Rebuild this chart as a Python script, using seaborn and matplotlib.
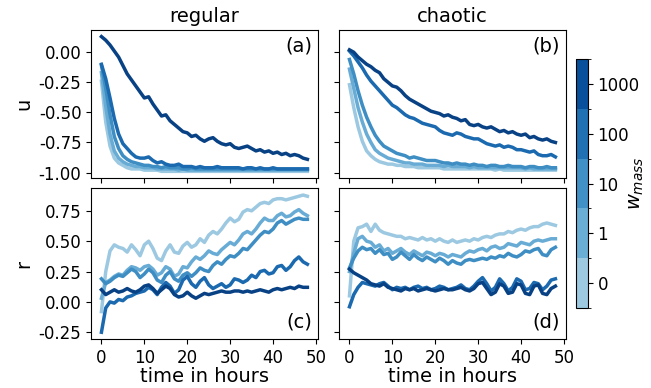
import numpy as np
import pandas as pd
import matplotlib
matplotlib.use("Agg")
import matplotlib.pyplot as plt
import seaborn as sns
from matplotlib.colors import ListedColormap, BoundaryNorm
from matplotlib.cm import ScalarMappable

# ---------------- data ----------------
hours = list(range(0, 49))
weights = ["0", "1", "10", "100", "1000"]
columns = ["regular", "chaotic"]
panel_labels = ["(a)", "(b)", "(c)", "(d)"]

# u, regular (panel a)
u_reg_0 = [-0.24, -0.58, -0.78, -0.88, -0.92, -0.94, -0.96, -0.97, -0.97, -0.97, -0.98, -0.98, -0.98, -0.98, -0.99,
           -0.99, -0.99, -0.99, -0.99, -0.99, -0.99, -0.99, -0.99, -0.99, -0.99, -0.99, -0.99, -0.99, -0.99, -0.99,
           -0.99, -0.99, -0.99, -0.99, -0.99, -0.99, -0.99, -0.99, -0.99, -0.99, -0.99, -0.99, -0.99, -0.99, -0.99,
           -0.99, -0.99, -0.99, -0.99]
u_reg_1 = [-0.17, -0.45, -0.68, -0.82, -0.88, -0.91, -0.93, -0.94, -0.95, -0.95, -0.96, -0.96, -0.96, -0.97, -0.97,
           -0.97, -0.97, -0.97, -0.98, -0.97, -0.98, -0.98, -0.98, -0.98, -0.98, -0.98, -0.98, -0.98, -0.98, -0.98,
           -0.98, -0.98, -0.98, -0.98, -0.98, -0.98, -0.98, -0.98, -0.98, -0.98, -0.98, -0.98, -0.98, -0.98, -0.98,
           -0.98, -0.98, -0.98, -0.98]
u_reg_10 = [-0.11, -0.30, -0.52, -0.70, -0.80, -0.86, -0.89, -0.91, -0.92, -0.93, -0.94, -0.94, -0.95, -0.95, -0.96,
            -0.95, -0.96, -0.96, -0.96, -0.97, -0.97, -0.96, -0.97, -0.97, -0.97, -0.97, -0.97, -0.97, -0.97, -0.97,
            -0.97, -0.97, -0.97, -0.97, -0.97, -0.97, -0.97, -0.97, -0.97, -0.97, -0.97, -0.97, -0.97, -0.97, -0.97,
            -0.97, -0.97, -0.97, -0.97]
u_reg_100 = [-0.10, -0.22, -0.38, -0.55, -0.68, -0.76, -0.80, -0.84, -0.87, -0.88, -0.88, -0.87, -0.90, -0.92, -0.91,
             -0.93, -0.94, -0.94, -0.93, -0.95, -0.95, -0.95, -0.96, -0.95, -0.96, -0.96, -0.96, -0.95, -0.96, -0.96,
             -0.96, -0.96, -0.96, -0.97, -0.96, -0.96, -0.97, -0.96, -0.97, -0.97, -0.96, -0.97, -0.97, -0.97, -0.97,
             -0.97, -0.97, -0.97, -0.97]
u_reg_1000 = [0.13, 0.10, 0.06, 0.01, -0.04, -0.11, -0.18, -0.23, -0.28, -0.33, -0.38, -0.37, -0.43, -0.48, -0.53,
              -0.52, -0.57, -0.60, -0.63, -0.66, -0.67, -0.70, -0.69, -0.72, -0.74, -0.72, -0.71, -0.74, -0.76, -0.77,
              -0.76, -0.79, -0.80, -0.79, -0.78, -0.80, -0.82, -0.81, -0.83, -0.82, -0.84, -0.83, -0.85, -0.84, -0.86,
              -0.85, -0.86, -0.88, -0.89]

# u, chaotic (panel b)
u_cha_0 = [-0.27, -0.46, -0.62, -0.74, -0.82, -0.86, -0.89, -0.91, -0.92, -0.93, -0.93, -0.94, -0.94, -0.95, -0.95,
           -0.95, -0.96, -0.96, -0.96, -0.96, -0.96, -0.96, -0.97, -0.97, -0.97, -0.97, -0.97, -0.97, -0.97, -0.97,
           -0.97, -0.97, -0.97, -0.97, -0.98, -0.97, -0.98, -0.98, -0.98, -0.98, -0.98, -0.98, -0.98, -0.98, -0.98,
           -0.98, -0.98, -0.98, -0.98]
u_cha_1 = [-0.14, -0.30, -0.46, -0.58, -0.68, -0.75, -0.81, -0.84, -0.86, -0.88, -0.89, -0.90, -0.91, -0.92, -0.92,
           -0.93, -0.93, -0.93, -0.94, -0.94, -0.94, -0.94, -0.95, -0.94, -0.95, -0.95, -0.95, -0.95, -0.96, -0.95,
           -0.96, -0.96, -0.96, -0.96, -0.96, -0.96, -0.96, -0.96, -0.96, -0.96, -0.96, -0.97, -0.96, -0.97, -0.97,
           -0.97, -0.97, -0.97, -0.97]
u_cha_10 = [-0.06, -0.18, -0.32, -0.44, -0.54, -0.62, -0.69, -0.74, -0.78, -0.80, -0.82, -0.84, -0.85, -0.86, -0.88,
            -0.87, -0.88, -0.89, -0.90, -0.90, -0.90, -0.91, -0.92, -0.92, -0.93, -0.92, -0.93, -0.93, -0.94, -0.93,
            -0.94, -0.94, -0.95, -0.94, -0.94, -0.95, -0.95, -0.94, -0.95, -0.95, -0.95, -0.96, -0.95, -0.95, -0.96,
            -0.96, -0.95, -0.96, -0.96]
u_cha_100 = [0.01, -0.03, -0.08, -0.13, -0.19, -0.24, -0.28, -0.32, -0.36, -0.40, -0.44, -0.46, -0.49, -0.52, -0.54,
             -0.55, -0.57, -0.59, -0.60, -0.61, -0.62, -0.65, -0.67, -0.68, -0.69, -0.67, -0.68, -0.70, -0.71, -0.72,
             -0.72, -0.74, -0.76, -0.77, -0.78, -0.77, -0.79, -0.78, -0.79, -0.81, -0.81, -0.82, -0.83, -0.82, -0.85,
             -0.86, -0.86, -0.85, -0.87]
u_cha_1000 = [0.02, 0.00, -0.04, -0.07, -0.10, -0.12, -0.15, -0.17, -0.22, -0.25, -0.28, -0.29, -0.32, -0.36, -0.39,
              -0.41, -0.43, -0.45, -0.47, -0.49, -0.50, -0.51, -0.53, -0.52, -0.54, -0.55, -0.57, -0.56, -0.60, -0.61,
              -0.60, -0.62, -0.63, -0.62, -0.64, -0.66, -0.65, -0.67, -0.66, -0.68, -0.69, -0.68, -0.71, -0.70, -0.72,
              -0.73, -0.72, -0.74, -0.75]

# r, regular (panel c)
r_reg_0 = [-0.08, 0.25, 0.42, 0.47, 0.45, 0.44, 0.41, 0.47, 0.43, 0.38, 0.47, 0.50, 0.44, 0.36, 0.34,
           0.42, 0.47, 0.41, 0.40, 0.46, 0.49, 0.45, 0.47, 0.52, 0.49, 0.55, 0.58, 0.56, 0.60, 0.65,
           0.69, 0.66, 0.68, 0.74, 0.76, 0.75, 0.78, 0.81, 0.82, 0.81, 0.84, 0.85, 0.85, 0.84, 0.85,
           0.86, 0.87, 0.88, 0.87]
r_reg_1 = [0.03, 0.16, 0.18, 0.21, 0.23, 0.22, 0.26, 0.29, 0.28, 0.26, 0.29, 0.30, 0.27, 0.22, 0.24,
           0.29, 0.27, 0.21, 0.23, 0.29, 0.28, 0.33, 0.37, 0.35, 0.38, 0.42, 0.40, 0.39, 0.43, 0.46,
           0.49, 0.47, 0.51, 0.56, 0.58, 0.56, 0.60, 0.65, 0.69, 0.67, 0.67, 0.71, 0.73, 0.70, 0.71,
           0.74, 0.76, 0.73, 0.71]
r_reg_10 = [0.19, 0.15, 0.17, 0.20, 0.22, 0.21, 0.24, 0.27, 0.25, 0.20, 0.23, 0.27, 0.24, 0.18, 0.16,
            0.22, 0.25, 0.19, 0.17, 0.22, 0.24, 0.21, 0.24, 0.28, 0.26, 0.25, 0.30, 0.33, 0.31, 0.35,
            0.38, 0.37, 0.40, 0.44, 0.43, 0.47, 0.51, 0.55, 0.58, 0.57, 0.60, 0.65, 0.67, 0.64, 0.66,
            0.68, 0.69, 0.68, 0.68]
r_reg_100 = [-0.25, -0.05, 0.00, -0.01, 0.02, 0.01, 0.04, 0.05, 0.07, 0.08, 0.09, 0.12, 0.10, 0.06, 0.12,
             0.16, 0.13, 0.07, 0.10, 0.18, 0.21, 0.15, 0.12, 0.17, 0.20, 0.14, 0.11, 0.13, 0.15, 0.12,
             0.14, 0.19, 0.18, 0.16, 0.18, 0.22, 0.20, 0.25, 0.26, 0.23, 0.24, 0.29, 0.30, 0.26, 0.29,
             0.34, 0.37, 0.33, 0.31]
r_reg_1000 = [0.10, 0.06, 0.08, 0.10, 0.08, 0.09, 0.11, 0.09, 0.08, 0.10, 0.13, 0.14, 0.11, 0.07, 0.10,
              0.13, 0.11, 0.06, 0.04, 0.05, 0.08, 0.05, 0.03, 0.05, 0.07, 0.06, 0.07, 0.08, 0.09, 0.08,
              0.08, 0.09, 0.09, 0.08, 0.09, 0.08, 0.09, 0.10, 0.09, 0.08, 0.10, 0.11, 0.10, 0.11, 0.12,
              0.11, 0.13, 0.12, 0.12]

# r, chaotic (panel d)
r_cha_0 = [0.05, 0.50, 0.61, 0.62, 0.64, 0.58, 0.64, 0.59, 0.57, 0.56, 0.55, 0.54, 0.54, 0.52, 0.53,
           0.52, 0.51, 0.53, 0.51, 0.52, 0.50, 0.52, 0.50, 0.49, 0.51, 0.49, 0.50, 0.51, 0.50, 0.52,
           0.51, 0.53, 0.54, 0.53, 0.55, 0.56, 0.56, 0.58, 0.57, 0.59, 0.60, 0.59, 0.61, 0.62, 0.62,
           0.64, 0.65, 0.64, 0.63]
r_cha_1 = [0.25, 0.40, 0.52, 0.54, 0.50, 0.49, 0.45, 0.47, 0.42, 0.44, 0.40, 0.42, 0.44, 0.41, 0.39,
           0.42, 0.40, 0.38, 0.41, 0.40, 0.38, 0.40, 0.39, 0.37, 0.39, 0.38, 0.37, 0.40, 0.42, 0.41,
           0.43, 0.44, 0.42, 0.45, 0.46, 0.44, 0.45, 0.48, 0.47, 0.46, 0.49, 0.48, 0.47, 0.50, 0.51,
           0.50, 0.51, 0.52, 0.52]
r_cha_10 = [0.28, 0.36, 0.42, 0.45, 0.43, 0.44, 0.40, 0.43, 0.39, 0.40, 0.35, 0.37, 0.41, 0.38, 0.35,
            0.39, 0.36, 0.34, 0.37, 0.35, 0.33, 0.36, 0.34, 0.31, 0.34, 0.32, 0.31, 0.34, 0.35, 0.34,
            0.35, 0.36, 0.35, 0.37, 0.36, 0.38, 0.37, 0.40, 0.38, 0.37, 0.39, 0.42, 0.41, 0.43, 0.44,
            0.39, 0.38, 0.43, 0.45]
r_cha_100 = [-0.04, 0.06, 0.12, 0.16, 0.15, 0.14, 0.13, 0.15, 0.16, 0.13, 0.10, 0.12, 0.11, 0.12, 0.10,
             0.12, 0.13, 0.11, 0.12, 0.10, 0.11, 0.13, 0.12, 0.10, 0.11, 0.12, 0.14, 0.11, 0.10, 0.13,
             0.17, 0.20, 0.15, 0.09, 0.12, 0.19, 0.15, 0.09, 0.12, 0.19, 0.17, 0.10, 0.11, 0.16, 0.15,
             0.10, 0.13, 0.18, 0.19]
r_cha_1000 = [0.27, 0.24, 0.22, 0.20, 0.18, 0.15, 0.14, 0.13, 0.15, 0.12, 0.11, 0.10, 0.09, 0.11, 0.10,
              0.11, 0.09, 0.10, 0.11, 0.10, 0.09, 0.10, 0.11, 0.10, 0.10, 0.11, 0.12, 0.10, 0.09, 0.11,
              0.15, 0.16, 0.11, 0.06, 0.08, 0.15, 0.13, 0.07, 0.08, 0.15, 0.14, 0.07, 0.06, 0.13, 0.14,
              0.07, 0.06, 0.11, 0.13]

panels = [
    [u_reg_0, u_reg_1, u_reg_10, u_reg_100, u_reg_1000],
    [u_cha_0, u_cha_1, u_cha_10, u_cha_100, u_cha_1000],
    [r_reg_0, r_reg_1, r_reg_10, r_reg_100, r_reg_1000],
    [r_cha_0, r_cha_1, r_cha_10, r_cha_100, r_cha_1000],
]

# ---------------- style ----------------
blues = plt.get_cmap("Blues")
bar_colors = [blues(v) for v in [0.375, 0.5, 0.625, 0.75, 0.875]]
line_colors = [blues(v) for v in [0.38, 0.51, 0.64, 0.78, 0.93]]
palette = dict(zip(weights, line_colors))

fig = plt.figure(figsize=(6.51, 3.88), dpi=100)
axL = 0.140; axW = 0.348; axL2 = 0.521
top_b = 0.541; top_h = 0.923 - 0.541
bot_b = 0.126; bot_h = 0.515 - 0.126
ax_a = fig.add_axes([axL, top_b, axW, top_h])
ax_b = fig.add_axes([axL2, top_b, axW, top_h], sharey=ax_a, sharex=ax_a)
ax_c = fig.add_axes([axL, bot_b, axW, bot_h], sharex=ax_a)
ax_d = fig.add_axes([axL2, bot_b, axW, bot_h], sharey=ax_c, sharex=ax_a)
axes = [ax_a, ax_b, ax_c, ax_d]

for ax, series, lab in zip(axes, panels, panel_labels):
    rows = []
    for w, vals in zip(weights, series):
        for t, v in zip(hours, vals):
            rows.append({"time": t, "value": v, "w": w})
    df = pd.DataFrame(rows)
    sns.lineplot(data=df, x="time", y="value", hue="w", hue_order=weights,
                 palette=palette, linewidth=2.5, legend=False, ax=ax)
    ax.set_xlabel("")
    ax.set_ylabel("")
    ax.tick_params(labelsize=12)
    yv = 0.89 if lab in ("(a)", "(b)") else 0.115
    ax.text(0.975, yv, lab, transform=ax.transAxes, ha="right", va="center", fontsize=14)

ax_a.set_title("regular", fontsize=14)
ax_b.set_title("chaotic", fontsize=14)
ax_a.set_ylabel("u", fontsize=14)
ax_c.set_ylabel("r", fontsize=14)
ax_c.set_xlabel("time in hours", fontsize=14, labelpad=0)
ax_d.set_xlabel("time in hours", fontsize=14, labelpad=0)
ax_a.set_xticks([0, 10, 20, 30, 40, 50])
ax_a.set_yticks([0.0, -0.25, -0.5, -0.75, -1.0])
ax_c.set_yticks([0.75, 0.5, 0.25, 0.0, -0.25])
for ax in (ax_a, ax_b):
    ax.tick_params(labelbottom=False)
for ax in (ax_b, ax_d):
    ax.tick_params(labelleft=False)
ax_a.yaxis.set_major_formatter(matplotlib.ticker.FormatStrFormatter("%.2f"))
ax_c.yaxis.set_major_formatter(matplotlib.ticker.FormatStrFormatter("%.2f"))

# colorbar
cax = fig.add_axes([0.885, 0.206, 0.018, 0.642])
cmap = ListedColormap(bar_colors)
norm = BoundaryNorm(np.arange(0, 6), cmap.N)
sm = ScalarMappable(norm=norm, cmap=cmap)
cb = fig.colorbar(sm, cax=cax, ticks=np.arange(0.5, 5, 1))
cb.ax.set_yticklabels(weights)
cb.ax.tick_params(labelsize=12)
cb.set_label("$w_{mass}$", fontsize=14, labelpad=-9)

fig.savefig("out.png", dpi=100)
